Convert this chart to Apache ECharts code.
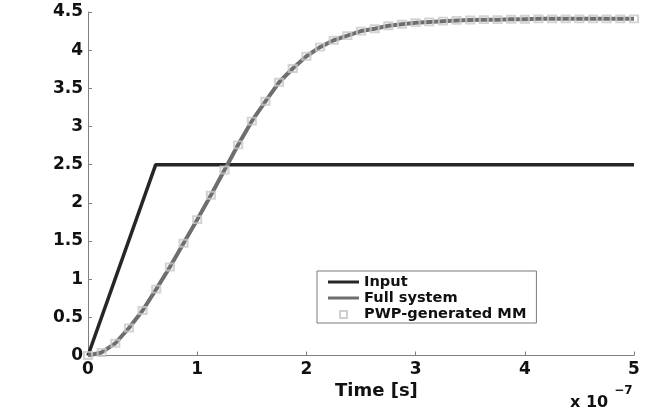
<!DOCTYPE html>
<html>
<head>
<meta charset="utf-8">
<script src="https://cdn.jsdelivr.net/npm/echarts@6/dist/echarts.min.js"></script>
<style>
html,body{margin:0;padding:0;background:#fff;}
#chart{width:647px;height:411px;}
</style>
</head>
<body>
<div id="chart"></div>
<script>
// Time in units of 1e-7 s
const timeTicks = [0, 1, 2, 3, 4, 5];
const yTicks = [0, 0.5, 1, 1.5, 2, 2.5, 3, 3.5, 4, 4.5];
const inputTime = [0, 0.62, 5];
const inputValue = [0, 2.5, 2.5];
const sampleTime = [0, 0.125, 0.25, 0.375, 0.5, 0.625, 0.75, 0.875, 1, 1.125, 1.25, 1.375, 1.5, 1.625, 1.75, 1.875, 2, 2.125, 2.25, 2.375, 2.5, 2.625, 2.75, 2.875, 3, 3.125, 3.25, 3.375, 3.5, 3.625, 3.75, 3.875, 4, 4.125, 4.25, 4.375, 4.5, 4.625, 4.75, 4.875, 5];
const fullSystem = [0, 0.04, 0.16, 0.36, 0.59, 0.87, 1.16, 1.47, 1.78, 2.10, 2.43, 2.76, 3.07, 3.33, 3.58, 3.76, 3.92, 4.04, 4.13, 4.19, 4.25, 4.28, 4.32, 4.34, 4.36, 4.37, 4.38, 4.39, 4.395, 4.40, 4.40, 4.405, 4.405, 4.41, 4.41, 4.41, 4.41, 4.41, 4.41, 4.41, 4.41];
const pwpMM = fullSystem.slice();
const seriesNames = ['Input', 'Full system', 'PWP-generated MM'];
const xAxisTitle = 'Time [s]';

const zip = (a, b) => a.map((v, i) => [v, b[i]]);
const FONT = 'DejaVu Sans';
const LINE_ICON = 'path://M0,0M31,14M0,5.5h31v3h-31z';
const chart = echarts.init(document.getElementById('chart'), null, {renderer: 'canvas'});
chart.setOption({
  animation: false,
  backgroundColor: '#fff',
  grid: {left: 88, right: 13, top: 12, bottom: 55.5, containLabel: false, outerBoundsMode: 'none'},
  xAxis: {
    type: 'value', min: timeTicks[0], max: timeTicks[timeTicks.length - 1], interval: 1,
    axisLine: {show: true, onZero: false, lineStyle: {color: '#808080', width: 1}},
    axisTick: {show: true, inside: true, length: 4, lineStyle: {color: '#808080'}},
    splitLine: {show: false},
    axisLabel: {color: '#111', fontFamily: FONT, fontWeight: 'bold', fontSize: 17, margin: 6}
  },
  yAxis: {
    type: 'value', min: yTicks[0], max: yTicks[yTicks.length - 1], interval: 0.5,
    axisLine: {show: true, onZero: false, lineStyle: {color: '#808080', width: 1}},
    axisTick: {show: true, inside: true, length: 4, lineStyle: {color: '#808080'}},
    splitLine: {show: false},
    axisLabel: {color: '#111', fontFamily: FONT, fontWeight: 'bold', fontSize: 17, margin: 5}
  },
  legend: {
    orient: 'vertical', left: 317, top: 271,
    backgroundColor: '#fff', borderColor: '#7a7a7a', borderWidth: 1,
    padding: [3.5, 10, 0.5, 10], itemGap: 1, itemWidth: 31, itemHeight: 14,
    textStyle: {color: '#111', fontFamily: FONT, fontWeight: 'bold', fontSize: 14.6},
    data: [
      {name: seriesNames[0], icon: LINE_ICON, itemStyle: {color: '#262626', borderWidth: 0}},
      {name: seriesNames[1], icon: LINE_ICON, itemStyle: {color: '#6e6e6e', borderWidth: 0}},
      {name: seriesNames[2], icon: 'path://M0,0M31,14M12,3.5h7v7h-7z',
       itemStyle: {color: 'rgba(0,0,0,0)', borderColor: '#c4c4c4', borderWidth: 2}}
    ]
  },
  series: [
    {
      name: seriesNames[0], type: 'line', data: zip(inputTime, inputValue),
      symbol: 'none', lineStyle: {color: '#262626', width: 3.5}, itemStyle: {color: '#262626'}, z: 3
    },
    {
      name: seriesNames[1], type: 'line', data: zip(sampleTime, fullSystem),
      symbol: 'none', lineStyle: {color: '#6e6e6e', width: 4}, itemStyle: {color: '#6e6e6e'}, z: 4
    },
    {
      name: seriesNames[2], type: 'scatter', data: zip(sampleTime, pwpMM),
      symbol: 'rect', symbolSize: [8, 7],
      itemStyle: {color: 'rgba(0,0,0,0)', borderColor: '#c8c8c8', borderWidth: 2}, z: 5
    }
  ],
  graphic: [
    {type: 'text', left: 335, top: 382, style: {text: xAxisTitle, font: 'bold 18px "DejaVu Sans"', fill: '#111'}},
    {type: 'text', left: 570, top: 385, style: {
      text: '{a|x 10}{b|−7}',
      rich: {
        a: {font: 'bold 16px "DejaVu Sans"', fill: '#111', verticalAlign: 'bottom', lineHeight: 26, padding: [0, 6, 0, 0]},
        b: {font: 'bold 12px "DejaVu Sans"', fill: '#111', verticalAlign: 'top', lineHeight: 26, padding: [0, 0, 9, 0]}
      }
    }}
  ]
});
</script>
</body>
</html>
